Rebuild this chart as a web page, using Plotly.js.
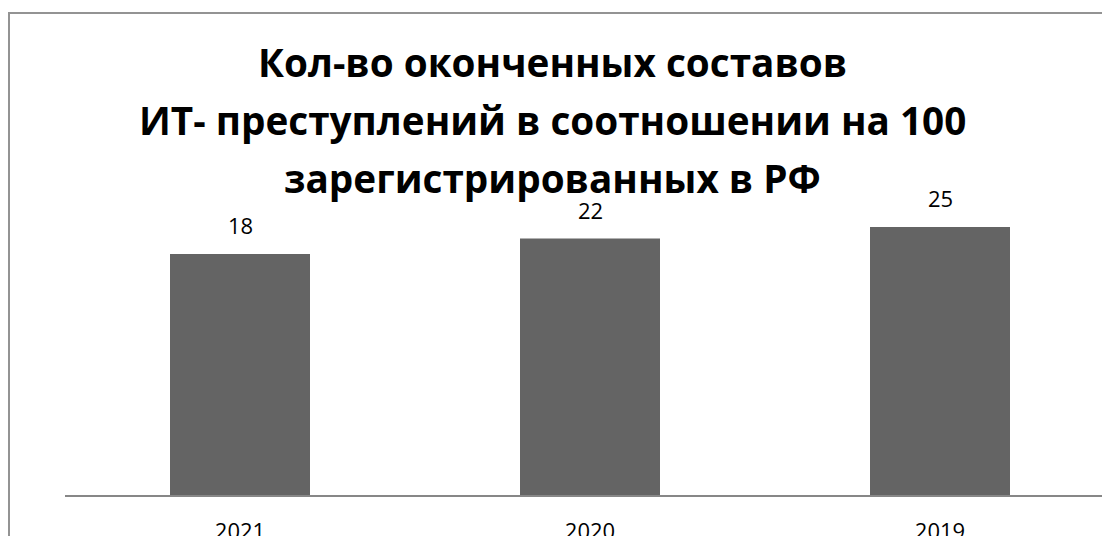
<!DOCTYPE html>
<html>
<head>
<meta charset="utf-8">
<script src="https://cdn.plot.ly/plotly-3.0.1.min.js"></script>
<style>
  html, body { margin: 0; padding: 0; width: 1102px; height: 536px; overflow: hidden; background: #fff; }
  #frame { position: absolute; left: 8px; top: 12px; width: 1300px; height: 700px; border: 2px solid #939393; box-sizing: border-box; }
  #chart { position: absolute; left: 0; top: 0; width: 1250px; height: 650px; }
</style>
</head>
<body>
<div id="frame"></div>
<div id="chart"></div>
<script>
// Data
const categories = ["2021", "2020", "2019"];
const values = [18, 22, 25];
const titleLines = [
  "Кол-во оконченных составов",
  "ИТ- преступлений в соотношении на 100",
  "зарегистрированных в РФ"
];

// Axis setup (the original chart's value axis does not start at zero)
const axisMin = -44.2;
const axisMax = 57.76;

const FONT = "'Open Sans', 'Noto Sans', sans-serif";

const trace = {
  type: "bar",
  x: categories,
  y: values.map(v => v - axisMin),
  base: axisMin,
  width: 0.4,
  marker: { color: "#646464" },
  hoverinfo: "x+text",
  hovertext: values.map(String)
};

const annotations = [];
// Data labels
categories.forEach((c, i) => {
  annotations.push({
    x: i, y: values[i], xref: "x", yref: "y",
    text: String(values[i]), showarrow: false,
    yanchor: "bottom", yshift: 12,
    font: { family: FONT, size: 22, color: "#000" }
  });
});
// Title lines
const plotL = 65, plotW = 1050, plotT = 100, plotH = 395;
const titleCenterX = 552;
const baselines = [80, 138, 196];
titleLines.forEach((t, i) => {
  annotations.push({
    xref: "paper", yref: "paper",
    x: (titleCenterX - plotL) / plotW,
    y: (plotT + plotH - (baselines[i] + 10)) / plotH,
    xanchor: "center", yanchor: "bottom",
    text: "<b>" + t + "</b>", showarrow: false,
    font: { family: FONT, size: 38.7, color: "#000" }
  });
});

const layout = {
  width: 1250, height: 650,
  margin: { l: plotL, r: 1250 - plotL - plotW, t: plotT, b: 650 - plotT - plotH },
  paper_bgcolor: "rgba(0,0,0,0)",
  plot_bgcolor: "rgba(0,0,0,0)",
  showlegend: false,
  bargap: 0.6,
  xaxis: {
    type: "category",
    range: [-0.5, categories.length - 0.5],
    autorange: false,
    showline: true, linecolor: "#878787", linewidth: 2,
    showgrid: false, zeroline: false, ticks: "",
    ticklabelstandoff: 16,
    tickfont: { family: FONT, size: 22, color: "#000" }
  },
  yaxis: {
    range: [axisMin, axisMax],
    autorange: false,
    visible: false, showgrid: false, zeroline: false
  },
  annotations: annotations
};

Plotly.newPlot("chart", [trace], layout, { displayModeBar: false, staticPlot: true });
</script>
</body>
</html>
